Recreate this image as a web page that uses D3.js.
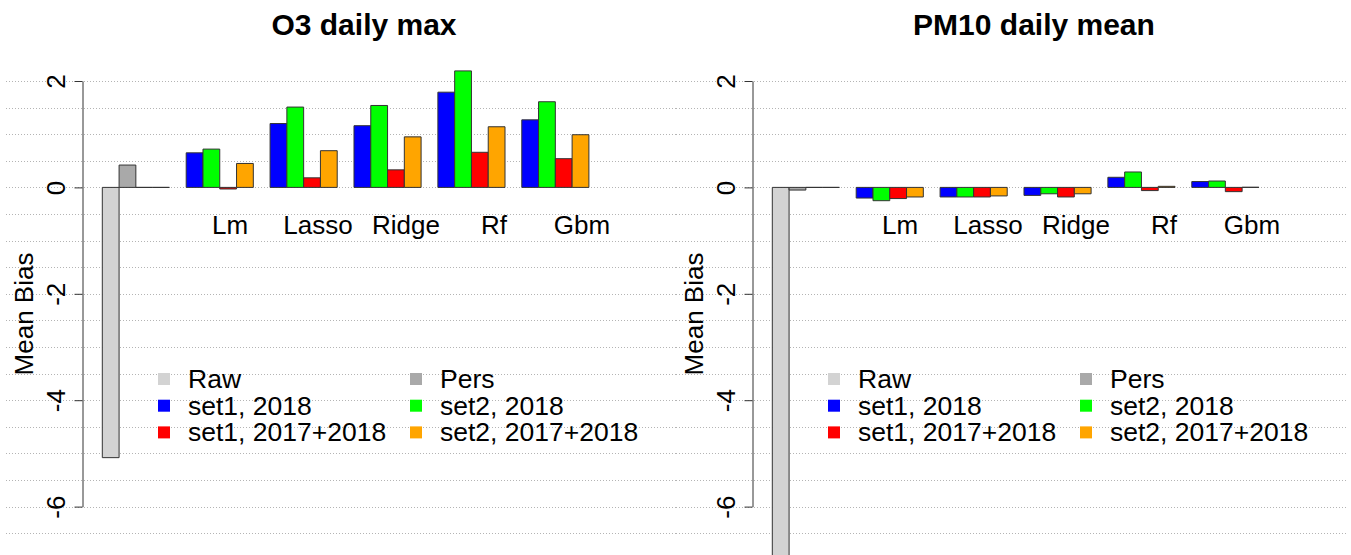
<!DOCTYPE html>
<html>
<head>
<meta charset="utf-8">
<script src="https://cdn.jsdelivr.net/npm/d3@7"></script>
<style>
  html, body { margin: 0; padding: 0; background: #fff; }
  svg { display: block; }
  text { font-family: "Liberation Sans", Arial, Helvetica, sans-serif; fill: #000; }
</style>
</head>
<body>
<svg id="chart" width="1351" height="555"></svg>
<script>
// Model names along the x axis
const models = ["Lm", "Lasso", "Ridge", "Rf", "Gbm"];
// Training setups, one bar each per model
const series = ["set1, 2018", "set2, 2018", "set1, 2017+2018", "set2, 2017+2018"];
const seriesColors = ["#0000ff", "#00ff00", "#ff0000", "#ffa500"];
// Reference forecasts shown in the first group (two empty slots after them)
const baselineNames = ["Raw", "Pers"];
const baselineColors = ["#d3d3d3", "#a9a9a9", "#a9a9a9", "#a9a9a9"];

// O3 daily max: mean bias
const o3Baseline  = [-5.08, 0.42, 0, 0];
const o3Set1_2018 = [0.65, 1.20, 1.16, 1.79, 1.27];
const o3Set2_2018 = [0.72, 1.51, 1.54, 2.19, 1.61];
const o3Set1_1718 = [-0.03, 0.18, 0.33, 0.66, 0.54];
const o3Set2_1718 = [0.45, 0.69, 0.95, 1.14, 0.99];

// PM10 daily mean: mean bias
const pmBaseline  = [-7.4, -0.05, 0, 0];
const pmSet1_2018 = [-0.20, -0.18, -0.15, 0.19, 0.11];
const pmSet2_2018 = [-0.25, -0.18, -0.12, 0.29, 0.12];
const pmSet1_1718 = [-0.21, -0.18, -0.18, -0.06, -0.08];
const pmSet2_1718 = [-0.18, -0.16, -0.12, 0.02, 0.003];

// Axis ticks and grid levels
const yTicks = [2, 0, -2, -4, -6];
const gridLevels = d3.range(-6.5, 2.01, 0.5);

const panels = [
  { title: "O3 daily max", offset: 0,
    baseline: o3Baseline, values: [o3Set1_2018, o3Set2_2018, o3Set1_1718, o3Set2_1718] },
  { title: "PM10 daily mean", offset: 670,
    baseline: pmBaseline, values: [pmSet1_2018, pmSet2_2018, pmSet1_1718, pmSet2_1718] }
];

const svg = d3.select("#chart");

// Shared vertical scale
const y = d3.scaleLinear().domain([-6, 2]).range([506.6, 81]);

// Groups: the reference group followed by the five models
const groupKeys = ["ref"].concat(models);
const xGroup = d3.scaleBand().domain(groupKeys)
  .range([102.3, 588.9]).paddingInner(0.2).paddingOuter(0);
const xSeries = d3.scaleBand().domain(d3.range(4))
  .range([0, xGroup.bandwidth()]).padding(0);
// Model name positions under the bars
const xLabel = d3.scalePoint().domain(models).range([230, 582]);

function barPath(x0, w, v) {
  const y0 = y(0), y1 = y(v);
  return `M${x0},${y0}H${x0 + w}V${y1}H${x0}Z`;
}

panels.forEach(p => {
  const g = svg.append("g").attr("transform", `translate(${p.offset},0)`);

  // dotted horizontal grid
  g.append("g").selectAll("line").data(gridLevels).join("line")
    .attr("x1", 6).attr("x2", 676)
    .attr("y1", d => Math.round(y(d)) + 0.5).attr("y2", d => Math.round(y(d)) + 0.5)
    .attr("stroke", "#b4b4b4").attr("stroke-width", 1)
    .attr("stroke-dasharray", "1,2");

  // bar data: reference group + model groups
  const bars = [];
  p.baseline.forEach((v, j) => bars.push({ group: "ref", j, v, fill: baselineColors[j] }));
  models.forEach((m, i) => {
    p.values.forEach((arr, j) => bars.push({ group: m, j, v: arr[i], fill: seriesColors[j] }));
  });

  g.append("g").selectAll("path").data(bars).join("path")
    .attr("d", d => barPath(xGroup(d.group) + xSeries(d.j), xSeries.bandwidth(), d.v))
    .attr("fill", d => d.fill)
    .attr("stroke", "#333")
    .attr("stroke-width", 1);

  // y axis
  const yAxisScale = y.copy();
  const axis = d3.axisLeft(yAxisScale).tickValues(yTicks).tickSize(8).tickSizeOuter(0)
    .tickFormat(d3.format("d"));
  const ag = g.append("g").attr("transform", "translate(82.5,0)").call(axis);
  ag.select(".domain").attr("stroke", "#333");
  ag.selectAll(".tick line").attr("stroke", "#333");
  ag.selectAll(".tick text")
    .attr("x", null).attr("dy", null)
    .attr("text-anchor", "middle")
    .attr("transform", "translate(-17.5,0) rotate(-90)")
    .style("font-size", "26px")
    .style("font-family", "'Liberation Sans', Arial, sans-serif")
    .text(d => d < 0 ? "-" + Math.abs(d) : String(d));

  // y axis title
  g.append("text")
    .attr("transform", "translate(33,314) rotate(-90)")
    .attr("text-anchor", "middle")
    .style("font-size", "26px")
    .text("Mean Bias");

  // model labels
  g.append("g").selectAll("text").data(models).join("text")
    .attr("x", d => xLabel(d)).attr("y", 233.5)
    .attr("text-anchor", "middle")
    .style("font-size", "26px")
    .text(d => d);

  // panel title
  g.append("text")
    .attr("x", 364).attr("y", 35)
    .attr("text-anchor", "middle")
    .style("font-size", "30px").style("font-weight", "bold")
    .text(p.title);

  // legend
  const legendItems = [
    { name: baselineNames[0], color: baselineColors[0] },
    { name: baselineNames[1], color: baselineColors[1] },
    { name: series[0], color: seriesColors[0] },
    { name: series[1], color: seriesColors[1] },
    { name: series[2], color: seriesColors[2] },
    { name: series[3], color: seriesColors[3] }
  ];
  const colX = [158, 410];
  const rowY = [388, 414.7, 441.4];
  const lg = g.append("g").selectAll("g").data(legendItems).join("g")
    .attr("transform", (d, i) => `translate(${colX[i % 2]},${rowY[Math.floor(i / 2)]})`);
  lg.append("rect").attr("x", 0).attr("y", -15).attr("width", 12).attr("height", 12)
    .attr("fill", d => d.color);
  lg.append("text").attr("x", 30).attr("y", 0)
    .style("font-size", "26.5px")
    .text(d => d.name);
});
</script>
</body>
</html>
